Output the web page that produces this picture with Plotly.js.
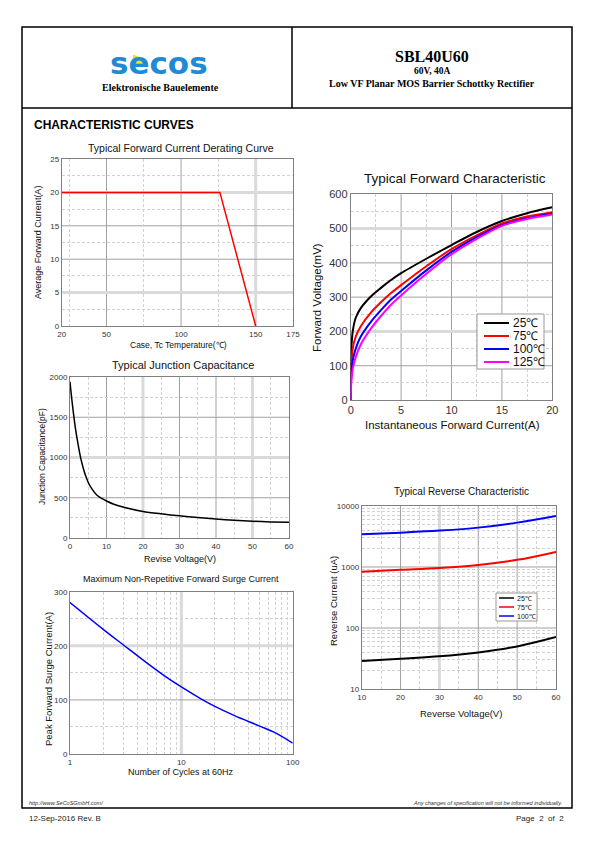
<!DOCTYPE html>
<html><head><meta charset="utf-8">
<script src="https://cdn.plot.ly/plotly-3.0.1.min.js"></script>
<style>html,body{margin:0;padding:0;background:#fff}#page{width:595px;height:842px}</style>
</head><body><div id="page"></div>
<script>
// ---------- DATA ----------
// Typical Forward Current Derating Curve
const derateTemp = [20, 126, 150];
const derateCurrent = [20, 20, 0];
const derateTicks = [20, 50, 100, 150, 175];

// Typical Forward Characteristic
const fwdCurrent = [0, 0.05, 0.2, 0.5, 1, 2, 3, 4, 5, 7.5, 10, 12.5, 15, 17.5, 20];
const fwdV25  = [0, 140, 200, 240, 268, 302, 327, 350, 370, 412, 452, 490, 522, 545, 562];
const fwdV75  = [0, 90, 150, 185, 215, 255, 285, 312, 335, 390, 440, 480, 515, 535, 548];
const fwdV100 = [0, 65, 115, 150, 185, 228, 262, 293, 318, 378, 432, 475, 510, 530, 544];
const fwdV125 = [0, 45, 90, 125, 162, 208, 245, 278, 305, 368, 425, 470, 508, 528, 541];
const fwdNames = ['25\u2103', '75\u2103', '100\u2103', '125\u2103'];

// Typical Junction Capacitance
const capVoltage = [0, 0.5, 1, 1.5, 2, 3, 4, 5, 6, 7, 8, 10, 12, 15, 20, 25, 30, 35, 40, 45, 50, 55, 60];
const capValue   = [1940, 1720, 1530, 1360, 1220, 980, 810, 690, 610, 550, 510, 460, 420, 380, 330, 300, 275, 255, 235, 220, 208, 200, 195];

// Maximum Non-Repetitive Forward Surge Current
const surgeCycles  = [1, 2, 3, 5, 7, 10, 15, 20, 30, 50, 70, 100];
const surgeCurrent = [280, 230, 202, 167, 145, 124, 102, 88, 71, 52, 39, 20];

// Typical Reverse Characteristic
const revVoltage = [10, 20, 30, 40, 50, 60];
const revI25  = [28.7, 31.4, 34.3, 39.8, 49.9, 71];
const revI75  = [832, 898, 967, 1083, 1310, 1770];
const revI100 = [3440, 3660, 3950, 4420, 5340, 6870];
const revNames = ['25\u2103', '75\u2103', '100\u2103'];

// ---------- LAYOUT HELPERS ----------
const F = 'Liberation Sans, Arial, Helvetica, sans-serif';
const SERIF = 'Liberation Serif, Times New Roman, serif';
const W = 595, H = 842;
const px = x => x / W;
const py = y => 1 - y / H;
const range = (a, b, s) => { const r = []; for (let v = a; v <= b + 1e-9; v += s) r.push(+v.toFixed(6)); return r; };

function ax(domain, anchor, opts) {
  return Object.assign({
    domain: domain, anchor: anchor, showline: true, mirror: true, linecolor: '#808080', linewidth: 1,
    showgrid: false, zeroline: false, ticks: '',
    tickfont: {family: F, size: 8, color: '#333'}, fixedrange: true, layer: 'below traces'
  }, opts);
}
function minor(vals) {
  return {tickvals: vals, showgrid: true, gridcolor: '#d2d2d2', griddash: '3px,2px', gridwidth: 1, ticks: ''};
}
function ann(text, x, y, size, extra) {
  return Object.assign({text: text, xref: 'paper', yref: 'paper', x: px(x), y: py(y), showarrow: false,
    xanchor: 'center', yanchor: 'middle', font: {family: F, size: size, color: '#111'}}, extra || {});
}
const THIN = {color: '#a0a0a0', width: 1};
const THICK = {color: '#dadada', width: 3};
function gridV(xr, yr, v, st) {
  return {type: 'line', xref: xr, yref: yr + ' domain', x0: v, x1: v, y0: 0, y1: 1, layer: 'below', line: st};
}
function gridH(xr, yr, v, st) {
  return {type: 'line', xref: xr + ' domain', yref: yr, x0: 0, x1: 1, y0: v, y1: v, layer: 'below', line: st};
}
function legLine(x0, x1, y, color, w) {
  return {type: 'line', xref: 'paper', yref: 'paper', x0: px(x0), x1: px(x1), y0: py(y), y1: py(y), line: {color: color, width: w}};
}

// ---------- TRACES ----------
const traces = [
  {x: derateTemp, y: derateCurrent, xaxis: 'x', yaxis: 'y', mode: 'lines', line: {color: '#ff0000', width: 1.5}},

  {x: fwdCurrent, y: fwdV25,  xaxis: 'x2', yaxis: 'y2', mode: 'lines', name: fwdNames[0], line: {color: '#000000', width: 2, shape: 'spline', smoothing: 0.8}},
  {x: fwdCurrent, y: fwdV75,  xaxis: 'x2', yaxis: 'y2', mode: 'lines', name: fwdNames[1], line: {color: '#ff0000', width: 2, shape: 'spline', smoothing: 0.8}},
  {x: fwdCurrent, y: fwdV100, xaxis: 'x2', yaxis: 'y2', mode: 'lines', name: fwdNames[2], line: {color: '#0000ff', width: 2, shape: 'spline', smoothing: 0.8}},
  {x: fwdCurrent, y: fwdV125, xaxis: 'x2', yaxis: 'y2', mode: 'lines', name: fwdNames[3], line: {color: '#ff00ff', width: 2, shape: 'spline', smoothing: 0.8}},

  {x: capVoltage, y: capValue, xaxis: 'x3', yaxis: 'y3', mode: 'lines', line: {color: '#000000', width: 1.5, shape: 'spline', smoothing: 0.8}},

  {x: surgeCycles, y: surgeCurrent, xaxis: 'x4', yaxis: 'y4', mode: 'lines', line: {color: '#0000ff', width: 1.5, shape: 'spline', smoothing: 1}},

  {x: revVoltage, y: revI25,  xaxis: 'x5', yaxis: 'y5', mode: 'lines', name: revNames[0], line: {color: '#000000', width: 2, shape: 'spline'}},
  {x: revVoltage, y: revI75,  xaxis: 'x5', yaxis: 'y5', mode: 'lines', name: revNames[1], line: {color: '#ff0000', width: 2, shape: 'spline'}},
  {x: revVoltage, y: revI100, xaxis: 'x5', yaxis: 'y5', mode: 'lines', name: revNames[2], line: {color: '#0000ff', width: 2, shape: 'spline'}}
];

// ---------- LAYOUT ----------
const shapes = [
  // page frame
  {type: 'rect', xref: 'paper', yref: 'paper', x0: px(22), x1: px(572), y0: py(808), y1: py(27), line: {color: '#000', width: 1.5}},
  {type: 'line', xref: 'paper', yref: 'paper', x0: px(22), x1: px(572), y0: py(108), y1: py(108), line: {color: '#000', width: 1.5}},
  {type: 'line', xref: 'paper', yref: 'paper', x0: px(292), x1: px(292), y0: py(27), y1: py(108), line: {color: '#000', width: 1.5}},
  // major grid lines (thin dark / thick light, as in the reference)
  gridV('x', 'y', 50, THIN), gridV('x', 'y', 100, THIN), gridV('x', 'y', 150, THICK),
  gridH('x', 'y', 10, THIN), gridH('x', 'y', 15, THIN), gridH('x', 'y', 5, THICK), gridH('x', 'y', 20, THICK),
  gridV('x2', 'y2', 5, THIN), gridV('x2', 'y2', 10, THIN), gridV('x2', 'y2', 15, THIN),
  gridH('x2', 'y2', 100, THIN), gridH('x2', 'y2', 300, THIN), gridH('x2', 'y2', 400, THIN),
  gridH('x2', 'y2', 200, THICK), gridH('x2', 'y2', 500, THICK),
  gridV('x3', 'y3', 10, THIN), gridV('x3', 'y3', 30, THIN), gridV('x3', 'y3', 40, THIN),
  gridV('x3', 'y3', 20, THICK), gridV('x3', 'y3', 50, THICK),
  gridH('x3', 'y3', 500, THIN), gridH('x3', 'y3', 1500, THIN), gridH('x3', 'y3', 1000, THICK),
  gridV('x4', 'y4', 10, THICK), gridH('x4', 'y4', 100, THIN), gridH('x4', 'y4', 200, THICK),
  gridV('x5', 'y5', 20, THIN), gridV('x5', 'y5', 40, THIN), gridV('x5', 'y5', 50, THIN), gridV('x5', 'y5', 30, THICK),
  gridH('x5', 'y5', 100, THIN), gridH('x5', 'y5', 1000, THIN),
  // legend box: forward characteristic
  {type: 'rect', xref: 'paper', yref: 'paper', x0: px(477), x1: px(544), y0: py(369), y1: py(314), fillcolor: '#fff', line: {color: '#999', width: 1}},
  legLine(484, 509, 323, '#000000', 2), legLine(484, 509, 336, '#ff0000', 2),
  legLine(484, 509, 349, '#0000ff', 2), legLine(484, 509, 362, '#ff00ff', 2),
  // legend box: reverse characteristic
  {type: 'rect', xref: 'paper', yref: 'paper', x0: px(496), x1: px(537), y0: py(621), y1: py(593), fillcolor: '#fff', line: {color: '#999', width: 1}},
  legLine(499, 514, 598, '#000000', 1.5), legLine(499, 514, 607, '#ff0000', 1.5), legLine(499, 514, 616, '#0000ff', 1.5)
];
// logo yellow wedge (quarter disc)
(function () {
  const cx = 133, cy = 66, r = 11; let p = 'M ' + px(cx) + ',' + py(cy);
  for (let a = 0; a <= 90; a += 10) {
    const t = a * Math.PI / 180;
    p += ' L ' + px(cx + r * Math.sin(t)) + ',' + py(cy - r * Math.cos(t));
  }
  shapes.push({type: 'path', xref: 'paper', yref: 'paper', path: p + ' Z', fillcolor: '#e6e033', line: {width: 0}, layer: 'above'});
})();

const annotations = [
  // header
  ann('<b>secos</b>', 159, 63, 31, {font: {family: 'DejaVu Sans, Verdana, sans-serif', size: 31, color: '#1f8ad6'}}),
  ann('<b>Elektronische Bauelemente</b>', 160, 87, 10, {font: {family: SERIF, size: 10, color: '#000'}}),
  ann('<b>SBL40U60</b>', 432, 56, 16, {font: {family: SERIF, size: 16, color: '#000'}}),
  ann('<b>60V, 40A</b>', 432, 71, 9.5, {font: {family: SERIF, size: 9.5, color: '#000'}}),
  ann('<b>Low VF Planar MOS Barrier Schottky Rectifier</b>', 432, 83, 10, {font: {family: SERIF, size: 10, color: '#000'}}),
  ann('<b>CHARACTERISTIC CURVES</b>', 32, 125, 12, {xanchor: 'left', font: {family: F, size: 12, color: '#000'}}),
  // chart titles
  ann('Typical Forward Current Derating Curve', 181, 148, 10.5),
  ann('Typical Forward Characteristic', 455, 178, 13.5),
  ann('Typical Junction Capacitance', 183, 365, 11),
  ann('Maximum Non-Repetitive Forward Surge Current', 181, 579, 9),
  ann('Typical Reverse Characteristic', 461, 492, 10),
  // axis titles
  ann('Case, Tc Temperature(\u2103)', 178, 345, 8.5),
  ann('Average Forward Current(A)', 38, 243, 9, {textangle: -90}),
  ann('Instantaneous Forward Current(A)', 452, 425, 11.5),
  ann('Forward Voltage(mV)', 317, 298, 11.5, {textangle: -90}),
  ann('Revise Voltage(V)', 180, 559, 9),
  ann('Junction Capacitance(pF)', 42, 457, 8.5, {textangle: -90}),
  ann('Number of Cycles at 60Hz', 181, 772, 9),
  ann('Peak Forward Surge Current(A)', 48, 679, 9.5, {textangle: -90}),
  ann('Reverse Voltage(V)', 461, 713, 9.5),
  ann('Reverse Current (uA)', 333, 601, 9.5, {textangle: -90}),
  // legend texts
  ann(fwdNames[0], 511, 323, 12, {xanchor: 'left'}),
  ann(fwdNames[1], 511, 336, 12, {xanchor: 'left'}),
  ann(fwdNames[2], 511, 349, 12, {xanchor: 'left'}),
  ann(fwdNames[3], 511, 362, 12, {xanchor: 'left'}),
  ann(revNames[0], 515, 598, 7, {xanchor: 'left'}),
  ann(revNames[1], 515, 607, 7, {xanchor: 'left'}),
  ann(revNames[2], 515, 616, 7, {xanchor: 'left'}),
  // footer
  ann('<i>http://www.SeCoSGmbH.com/</i>', 27, 803, 5.5, {xanchor: 'left', font: {family: F, size: 5.5, color: '#333'}}),
  ann('<i>Any changes of specification will not be informed individually.</i>', 564, 803, 5.5, {xanchor: 'right', font: {family: F, size: 5.5, color: '#333'}}),
  ann('12-Sep-2016 Rev. B', 27, 818, 8, {xanchor: 'left', font: {family: F, size: 8, color: '#222'}}),
  ann('Page  2  of  2', 566, 818, 8, {xanchor: 'right', font: {family: F, size: 8, color: '#222'}})
];

const layout = {
  width: W, height: H, margin: {l: 0, r: 0, t: 0, b: 0},
  paper_bgcolor: '#fff', plot_bgcolor: '#fff',
  font: {family: F, color: '#111'},
  showlegend: false,
  xaxis: ax([px(61.7), px(293)], 'y', {range: [20, 175], tickvals: derateTicks, minor: minor([25, 75, 125])}),
  yaxis: ax([py(326), py(159)], 'x', {range: [0, 25], dtick: 5, minor: minor(range(2.5, 22.5, 5))}),
  xaxis2: ax([px(350.7), px(552.3)], 'y2', {range: [0, 20], dtick: 5, minor: minor([2.5, 7.5, 12.5, 17.5]), tickfont: {family: F, size: 11, color: '#333'}}),
  yaxis2: ax([py(400), py(194.3)], 'x2', {range: [0, 600], dtick: 100, minor: minor(range(50, 550, 100)), tickfont: {family: F, size: 11, color: '#333'}}),
  xaxis3: ax([px(70), px(289)], 'y3', {range: [0, 60], dtick: 10, minor: minor(range(5, 55, 10))}),
  yaxis3: ax([py(538), py(377)], 'x3', {range: [0, 2000], dtick: 500, minor: minor(range(250, 1750, 500))}),
  xaxis4: ax([px(70), px(292.7)], 'y4', {type: 'log', range: [0, 2], tickvals: [1, 10, 100], ticktext: ['1', '10', '100'],
           minor: minor([2, 3, 4, 5, 6, 7, 8, 9, 20, 30, 40, 50, 60, 70, 80, 90])}),
  yaxis4: ax([py(754), py(591.7)], 'x4', {range: [0, 300], dtick: 100, minor: minor([50, 150, 250])}),
  xaxis5: ax([px(361.7), px(556)], 'y5', {range: [10, 60], dtick: 10, minor: minor(range(15, 55, 10))}),
  yaxis5: ax([py(689), py(506)], 'x5', {type: 'log', range: [1, 4], tickvals: [10, 100, 1000, 10000], ticktext: ['10', '100', '1000', '10000'],
           minor: minor([20, 30, 40, 50, 60, 70, 80, 90, 200, 300, 400, 500, 600, 700, 800, 900, 2000, 3000, 4000, 5000, 6000, 7000, 8000, 9000])}),
  shapes: shapes,
  annotations: annotations
};

Plotly.newPlot('page', traces, layout, {staticPlot: true, displayModeBar: false});
</script>
</body></html>
